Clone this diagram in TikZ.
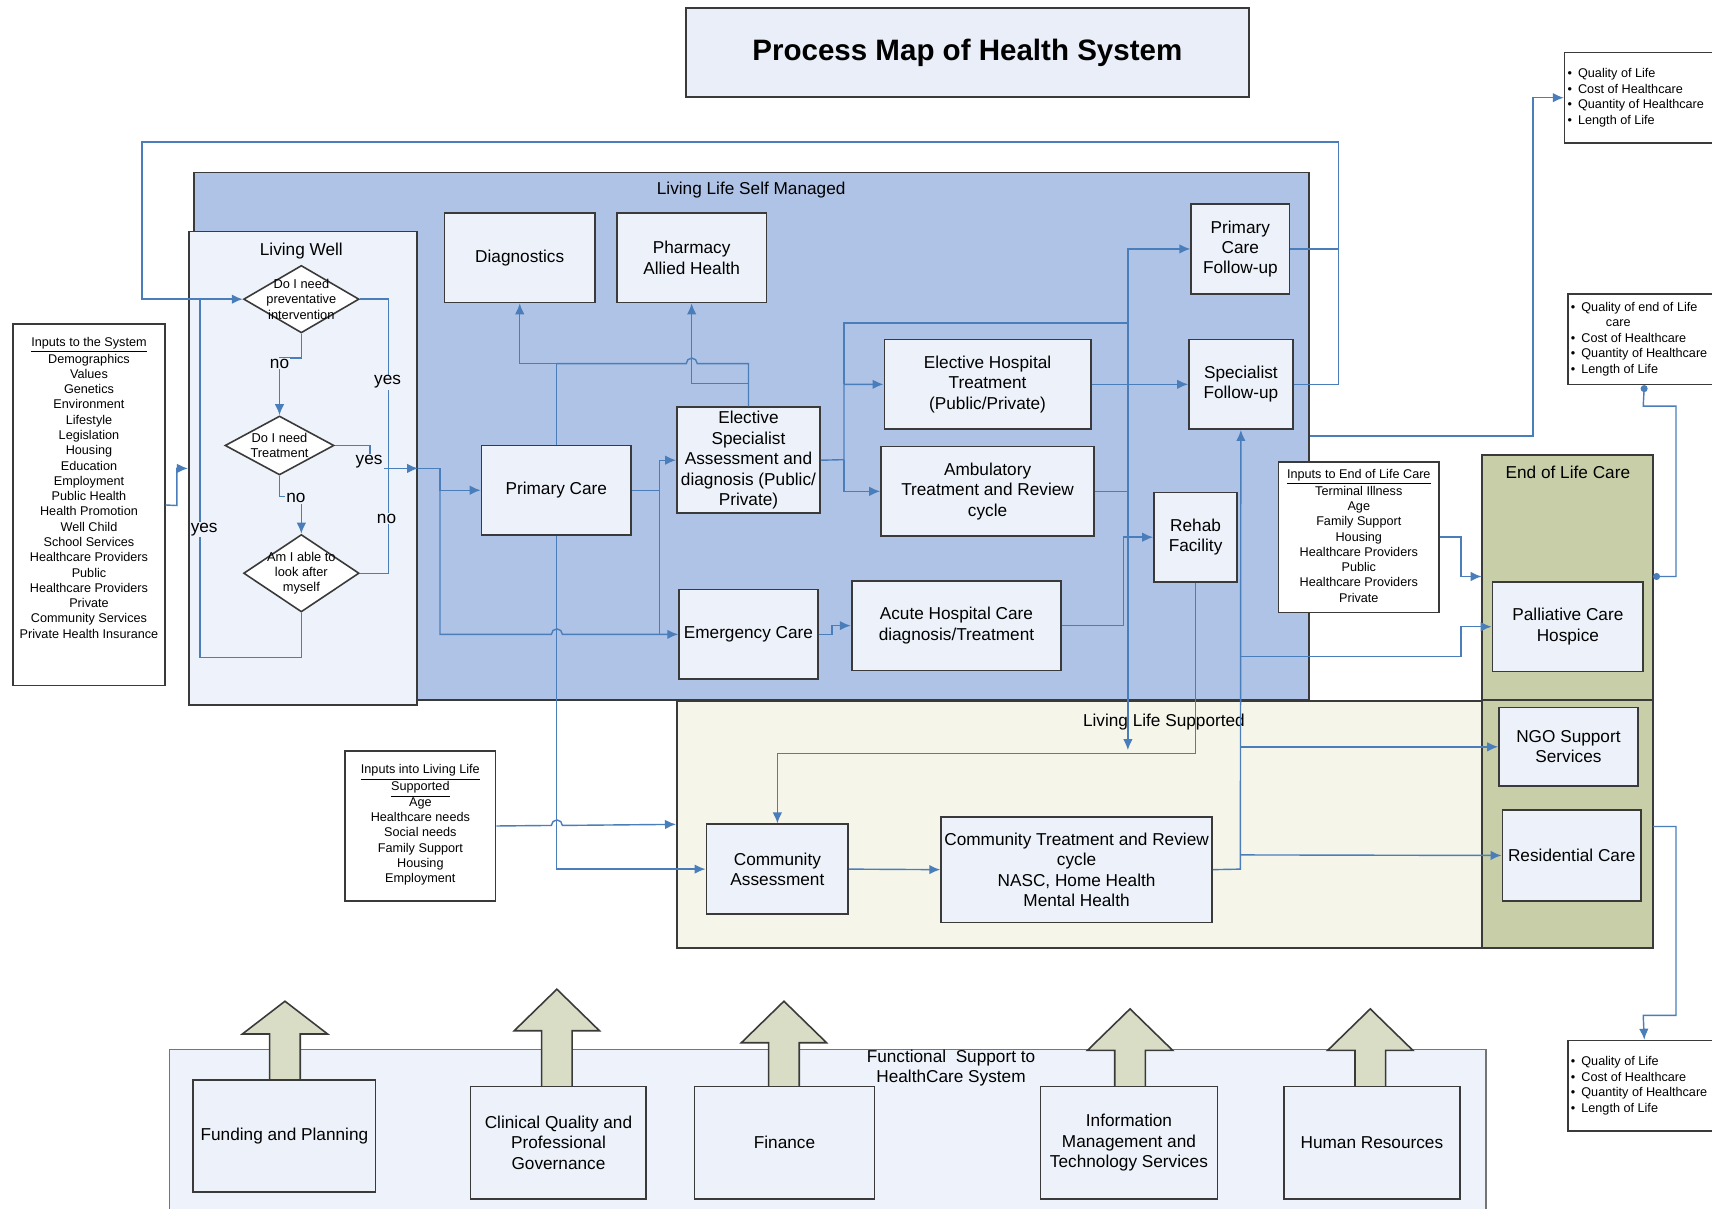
\documentclass[tikz,border=0pt]{standalone}
\usepackage{fontspec}
\setmainfont{Liberation Sans}
\usetikzlibrary{fit,shapes.geometric,arrows.meta}

\definecolor{linkblue}{HTML}{4A7EBB}
\definecolor{boxline}{HTML}{3A3A3A}
\definecolor{boxfill}{HTML}{EDF2FA}
\definecolor{titlefill}{HTML}{E9EEF8}
\definecolor{selfblue}{HTML}{AFC3E6}
\definecolor{wellfill}{HTML}{EEF3FB}
\definecolor{supfill}{HTML}{F5F5EA}
\definecolor{eolfill}{HTML}{C8CFA8}
\definecolor{blockfill}{HTML}{DADDC6}

\def\ux{0.21837mm}

\tikzset{
  region/.style={draw=boxline, line width=1.1pt, inner sep=0pt},
  box/.style={draw=boxline, fill=boxfill, line width=1pt, inner sep=0pt, align=center, font=\fontsize{9.8}{11.6}\selectfont},
  sized/.style 2 args={minimum width=#1*\ux, minimum height=#2*\ux},
  listbox/.style={draw=boxline, fill=white, line width=0.9pt, inner sep=0pt},
  listtext/.style={inner sep=0pt, align=center, font=\fontsize{7.2}{8.7}\selectfont},
  outtext/.style={inner sep=0pt, align=left, font=\fontsize{7.2}{8.9}\selectfont},
  reglabel/.style={inner sep=1pt, font=\fontsize{9.8}{11.6}\selectfont},
  dia/.style={diamond, draw=boxline, fill=white, line width=0.9pt, inner sep=0pt},
  diatext/.style={align=center, inner sep=0pt, font=\fontsize{7.3}{8.7}\selectfont},
  link/.style={draw=linkblue, line width=0.8pt},
  arr/.style={link, -{Latex[length=2.2mm,width=1.9mm]}},
  answer/.style={fill=wellfill, inner sep=0.6pt, font=\fontsize{9.8}{11.6}\selectfont},
  blockarrow/.style={draw=boxline, fill=blockfill, line width=0.9pt},
}

\begin{document}
\begin{tikzpicture}[x=0.21837mm, y=-0.21837mm]
\useasboundingbox (0,0) rectangle (1568,1107);
\fill[white] (0,0) rectangle (1568,1107);

% regions
\node[region, fill=selfblue, fit={(178,158) (1199,641)}] (selfman) {};
\node[region, fill=supfill, fit={(620,642) (1514,868)}] (livsup) {};
\node[region, fill=eolfill, fit={(1357,417) (1514,868)}] (eol) {};
\draw[boxline, line width=1.1pt] (1357,641) -- (1514,641);
\node[region, fill=wellfill, fit={(173,212) (382,646)}] (livwell) {};
\node[region, draw=boxline!70, line width=0.8pt, fill=wellfill, fit={(155,961) (1361,1115)}] (func) {};

\node[reglabel] (selfman-l) at (688,174) {Living Life Self Managed};
\node[reglabel] (livwell-l) at (276,230) {Living Well};
\node[reglabel] (livsup-l) at (1066,661) {Living Life Supported};
\node[reglabel] (eol-l) at (1436,433) {End of Life Care};
\node[reglabel, align=center] (func-l) at (871,978) {Functional\ \ Support to\\HealthCare System};

% title
\node[box, fill=titlefill, sized={516}{82}, font=\fontsize{16.8}{20}\selectfont\bfseries] (title) at (886,48) {Process Map of Health System};

% inputs
\node[listbox, fit={(12,297) (151,628)}] (insys) {};
\node[listtext, anchor=north] (insys-t) at ([yshift=-2.6mm]insys.north) {\underline{Inputs to the System}\\Demographics\\Values\\Genetics\\Environment\\Lifestyle\\Legislation\\Housing\\Education\\Employment\\Public Health\\Health Promotion\\Well Child\\School Services\\Healthcare Providers\\Public\\Healthcare Providers\\Private\\Community Services\\Private Health Insurance};
\node[listbox, fit={(316,688) (454,825)}] (inlls) {};
\node[listtext, anchor=north] (inlls-t) at ([yshift=-2.8mm]inlls.north) {\underline{Inputs into Living Life}\\\underline{Supported}\\Age\\Healthcare needs\\Social needs\\Family Support\\Housing\\Employment};
\node[listbox, fit={(1171,423) (1318,561)}] (inelc) {};
\node[listtext, anchor=north] (inelc-t) at ([yshift=-1.5mm]inelc.north) {\underline{Inputs to End of Life Care}\\Terminal Illness\\Age\\Family Support\\Housing\\Healthcare Providers\\Public\\Healthcare Providers\\Private};

% outcomes
\node[listbox, fit={(1433,48) (1576,131)}] (out1) {};
\node[outtext, anchor=west] (out1-t) at ([xshift=0.7mm]out1.west) {\textbullet\hspace{1.2mm}Quality of Life\\\textbullet\hspace{1.2mm}Cost of Healthcare\\\textbullet\hspace{1.2mm}Quantity of Healthcare\\\textbullet\hspace{1.2mm}Length of Life};
\node[listbox, fit={(1436,269) (1576,352)}] (out2) {};
\node[outtext, anchor=west] (out2-t) at ([xshift=0.7mm]out2.west) {\textbullet\hspace{1.2mm}Quality of end of Life\\\hspace*{7mm}care\\\textbullet\hspace{1.2mm}Cost of Healthcare\\\textbullet\hspace{1.2mm}Quantity of Healthcare\\\textbullet\hspace{1.2mm}Length of Life};
\node[listbox, fit={(1436,953) (1576,1036)}] (out3) {};
\node[outtext, anchor=west] (out3-t) at ([xshift=0.7mm]out3.west) {\textbullet\hspace{1.2mm}Quality of Life\\\textbullet\hspace{1.2mm}Cost of Healthcare\\\textbullet\hspace{1.2mm}Quantity of Healthcare\\\textbullet\hspace{1.2mm}Length of Life};

% living well decisions
\node[dia, minimum width=23.1mm, minimum height=13.5mm, label={[diatext]center:Do I need\\preventative\\intervention}] (d1) at (276,274) {};
\node[dia, minimum width=21.8mm, minimum height=11.8mm, label={[diatext]center:Do I need\\Treatment}] (d2) at (256,408) {};
\node[dia, minimum width=23.1mm, minimum height=15.5mm, label={[diatext]center:Am I able to\\look after\\myself}] (d3) at (276,525) {};

% self managed
\node[box, sized={138}{82}] (diag) at (476,236) {Diagnostics};
\node[box, sized={137}{82}] (pharm) at (633.5,236) {Pharmacy\\Allied Health};
\node[box, sized={137}{82}] (pc) at (509.5,449) {Primary Care};
\node[box, sized={131}{97}] (esa) at (685.5,421.5) {Elective\\Specialist\\Assessment and\\diagnosis (Public/\\Private)};
\node[box, sized={189}{82}] (eht) at (904.5,352) {Elective Hospital\\Treatment\\(Public/Private)};
\node[box, sized={195}{82}] (amb) at (904.5,450) {Ambulatory\\Treatment and Review\\cycle};
\node[box, sized={127}{82}] (emer) at (685.5,581) {Emergency Care};
\node[box, sized={192}{82}] (acute) at (876,573) {Acute Hospital Care\\diagnosis/Treatment};
\node[box, sized={90}{82}] (pcf) at (1136,228) {Primary\\Care\\Follow-up};
\node[box, sized={95}{82}] (spf) at (1136.5,352) {Specialist\\Follow-up};
\node[box, sized={76}{82}] (rehab) at (1095,492) {Rehab\\Facility};

% supported and end of life
\node[box, sized={130}{82}] (ca) at (712,796) {Community\\Assessment};
\node[box, sized={248}{97}] (ctr) at (986,796.5) {Community Treatment and Review\\cycle\\NASC, Home Health\\Mental Health};
\node[box, sized={138}{82}] (pal) at (1436,574) {Palliative Care\\Hospice};
\node[box, sized={127}{72}] (ngo) at (1436.5,684) {NGO Support\\Services};
\node[box, sized={127}{83}] (res) at (1439.5,783.5) {Residential Care};

% functional support
\foreach \cx/\tip/\base/\foot in {261/917/947/992, 510/906/944/998, 718/917/955/998, 1035/924/962/998, 1255/924/962/998}
  \draw[blockarrow] (\cx-14,\foot) -- (\cx-14,\base) -- (\cx-39,\base) -- (\cx,\tip) -- (\cx+39,\base) -- (\cx+14,\base) -- (\cx+14,\foot) -- cycle;
\node[box, sized={167}{103}] (fp) at (260.5,1040.5) {Funding and Planning};
\node[box, sized={161}{103}] (cq) at (511.5,1046.5) {Clinical Quality and\\Professional\\Governance};
\node[box, sized={165}{103}] (fin) at (718.5,1046.5) {Finance};
\node[box, sized={162}{103}] (imt) at (1034,1046.5) {Information\\Management and\\Technology Services};
\node[box, sized={161}{103}] (hr) at (1256.5,1046.5) {Human Resources};

% connectors: living well
\draw[arr] (insys.east) -- (162,463) |- (livwell.west);
\draw[link] (pcf.east) -- (1226,228);
\draw[arr] (spf.east) -- (1226,352) -- (1226,130) -- (130,130) |- (d1.west);
\draw[arr] (d1.south) -- (276,328) -| (d2.north);
\draw[arr] (d2.south) -- (256,455) -| (d3.north);
\draw[link] (d3.south) -- (276,602) -| (183,274);
\draw[link] (d1.east) -| (356,429);
\draw[link] (d3.east) -| (356,429);
\draw[arr] (d2.east) -- (339,408) |- (livwell.east);
\node[answer] (a1) at (256,333) {no};
\node[answer] (a2) at (355,350) {yes};
\node[answer] (a3) at (338,423) {yes};
\node[answer] (a4) at (271,456) {no};
\node[answer] (a5) at (354,475) {no};
\node[answer] (a6) at (187,485) {yes};

% connectors: self managed
\draw[arr] (livwell.east) -- (403,429) |- (pc.west);
\draw[arr] (403,449) -- (403,581) -- (505,581) arc[start angle=180, end angle=0, radius=1.1mm] -- (emer.west);
\draw[arr] (pc.north) |- (476,333) -- (diag.south);
\draw[link] (esa.north) |- (638.6,333) arc[start angle=0, end angle=180, radius=1.1mm] -- (510,333);
\draw[arr] (685.5,351) -| (pharm.south);
\draw[arr] (pc.east) -- (604,449) |- (esa.west);
\draw[link] (604,449) -- (604,581);
\draw[arr] (esa.east) -- (773,421) |- (eht.west);
\draw[arr] (773,421) |- (amb.west);
\draw[link] (773,352) -- (773,296) -- (1033,296);
\draw[arr] (1033,296) |- (pcf.west);
\draw[arr] (1033,296) -- (1033,687);
\draw[arr] (eht.east) -- (spf.west);
\draw[link] (amb.east) -- (1033,450);
\draw[arr] (emer.east) -- (762,581) |- (acute.west);
\draw[arr] (acute.east) -- (1029,573) |- (rehab.west);
\draw[arr] (selfman.east) -| (1404,89.5) -- (out1.west);

% connectors: supported and end of life
\draw[arr] (rehab.south) -- (1095,690) -| (ca.north);
\draw[arr] (pc.south) |- (ca.west);
\draw[arr] (inlls.east) -- (505,756) arc[start angle=180, end angle=0, radius=1.1mm] -- (livsup.west);
\draw[arr] (ca.east) -- (ctr.west);
\draw[arr] (ctr.east) -- (1136,796) -- (spf.south);
\draw[arr] (1136,601) -- (1338,601) |- (pal.west);
\draw[arr] (1136,684) -- (ngo.west);
\draw[arr] (1136,783) -- (res.west);
\draw[arr] (inelc.east) -- (1338,492) |- (1357,528);
\draw[link, {Circle[length=1.4mm]}-{Circle[length=1.4mm]}] (out2.south) -- (1505,372) -| (1535,528) -- (1514,528);
\draw[arr] (1514,757) -- (1535,757) |- (1505,930) -- (out3.north);
\end{tikzpicture}
\end{document}
